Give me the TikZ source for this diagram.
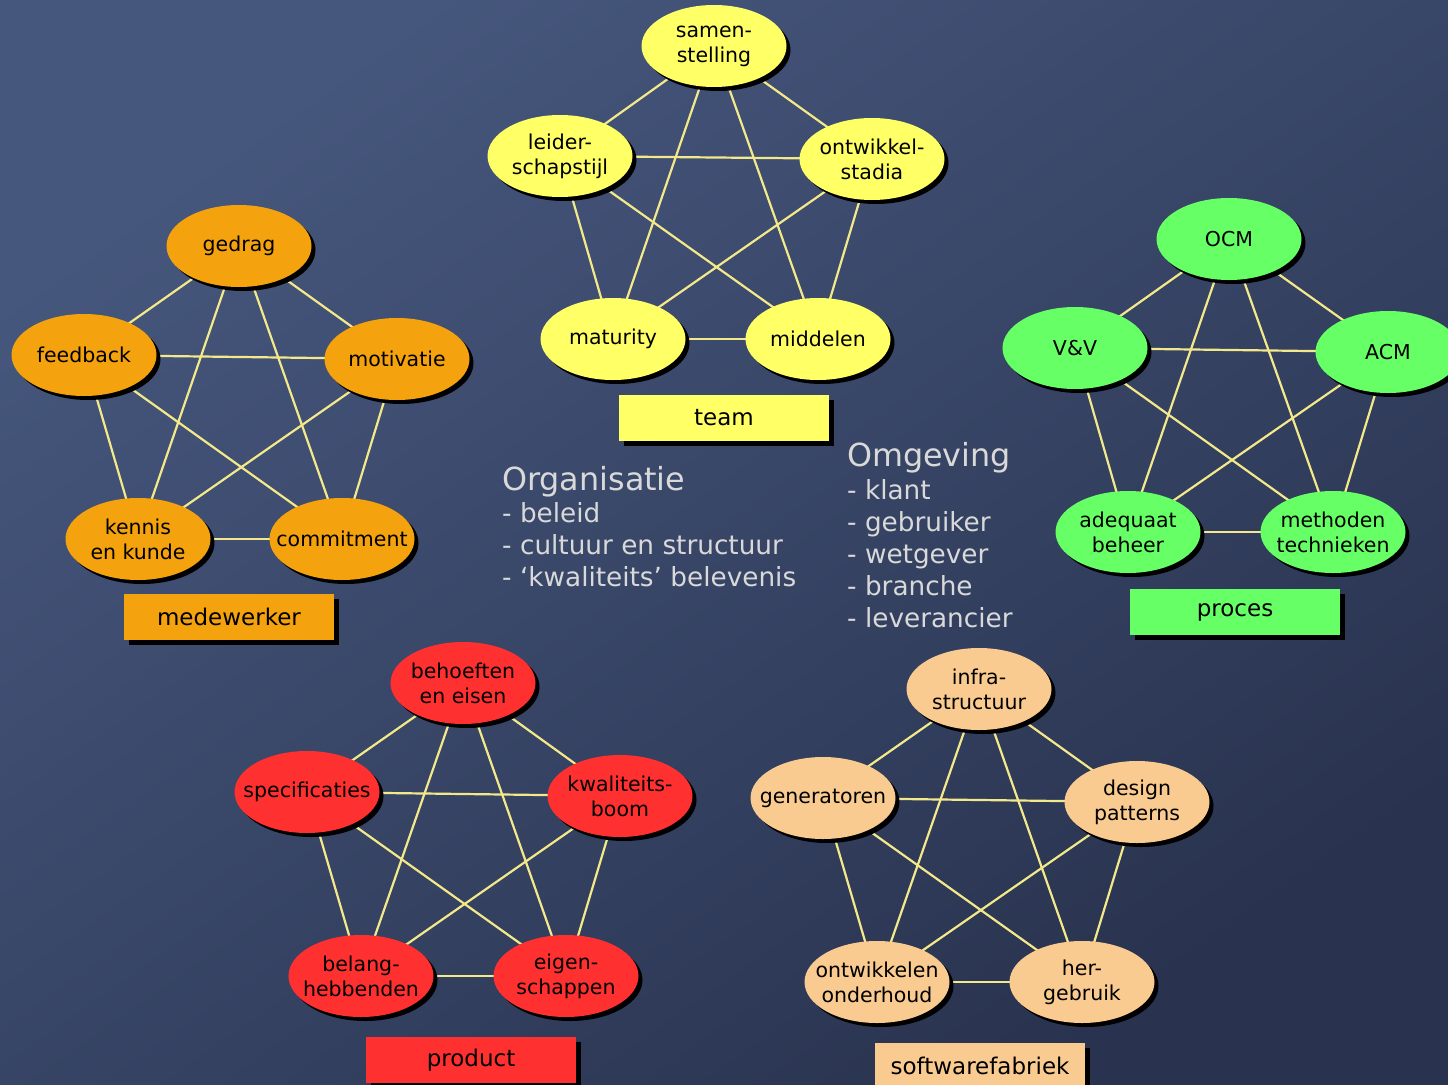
\documentclass[tikz,border=0pt]{standalone}
\usepackage{fontspec}
\setmainfont{DejaVu Sans}
\usetikzlibrary{shapes.geometric, shadows, backgrounds}
\definecolor{bgA}{HTML}{46577D}
\definecolor{bgB}{HTML}{29334F}
\definecolor{lijnkleur}{HTML}{F3E98A}
\definecolor{cmed}{HTML}{F4A30E}
\definecolor{cteam}{HTML}{FFFF66}
\definecolor{cproc}{HTML}{66FF66}
\definecolor{cprod}{HTML}{FF3030}
\definecolor{csw}{HTML}{FACB90}
\definecolor{grijs}{HTML}{D9D9D9}
\tikzset{%
    bol/.style={ellipse, minimum width=145pt, minimum height=82pt, inner xsep=-30pt, inner ysep=0pt, align=center,
        font=\fontsize{20.5}{25}\selectfont,
        drop shadow={fill=black, opacity=1, shadow xshift=4pt, shadow yshift=-4pt}},
    lab/.style={rectangle, minimum width=210pt, minimum height=46pt, inner sep=0pt,
        font=\fontsize{23}{28}\selectfont,
        drop shadow={fill=black, opacity=1, shadow xshift=5pt, shadow yshift=-5pt}},
    lijn/.style={line width=2.2pt, draw=lijnkleur},
    kop/.style={anchor=base west, inner sep=0pt, text=grijs, font=\fontsize{31.8}{36}\selectfont},
    lst/.style={anchor=base west, inner sep=0pt, text=grijs, font=\fontsize{26.3}{32}\selectfont},
}

\begin{document}
\begin{tikzpicture}[x=1pt, y=-1pt]
    \useasboundingbox (0,0) rectangle (1448,1084);
    \clip (0,0) rectangle (1448,1084);
    % medewerker
    \node[bol, fill=cmed] (med1) at (239,246) {gedrag};
    \node[bol, fill=cmed] (med2) at (84,355) {feedback};
    \node[bol, fill=cmed] (med3) at (397,359) {motivatie};
    \node[bol, fill=cmed] (med4) at (138,539) {kennis\\en kunde};
    \node[bol, fill=cmed] (med5) at (342,539) {commitment};
    \node[lab, fill=cmed] (medlab) at (229,617) {medewerker};
    % team
    \node[bol, fill=cteam] (team1) at (714,46) {samen-\\stelling};
    \node[bol, fill=cteam] (team2) at (560,156) {leider-\\schapstijl};
    \node[bol, fill=cteam] (team3) at (872,159) {ontwikkel-\\stadia};
    \node[bol, fill=cteam] (team4) at (613,339) {maturity};
    \node[bol, fill=cteam] (team5) at (818,339) {middelen};
    \node[lab, fill=cteam] (teamlab) at (724,418) {team};
    % proces
    \node[bol, fill=cproc] (proc1) at (1229,239) {OCM};
    \node[bol, fill=cproc] (proc2) at (1075,348) {V\&V};
    \node[bol, fill=cproc] (proc3) at (1388,352) {ACM};
    \node[bol, fill=cproc] (proc4) at (1128,532) {adequaat\\beheer};
    \node[bol, fill=cproc] (proc5) at (1333,532) {methoden\\technieken};
    \node[lab, fill=cproc] (proclab) at (1235,612) {proces};
    % product
    \node[bol, fill=cprod] (prod1) at (463,683) {behoeften\\en eisen};
    \node[bol, fill=cprod] (prod2) at (307,792) {specificaties};
    \node[bol, fill=cprod] (prod3) at (620,796) {kwaliteits-\\boom};
    \node[bol, fill=cprod] (prod4) at (361,976) {belang-\\hebbenden};
    \node[bol, fill=cprod] (prod5) at (566,976) {eigen-\\schappen};
    \node[lab, fill=cprod] (prodlab) at (471,1060) {product};
    % softwarefabriek
    \node[bol, fill=csw] (sw1) at (979,689) {infra-\\structuur};
    \node[bol, fill=csw] (sw2) at (823,798) {generatoren};
    \node[bol, fill=csw] (sw3) at (1137,802) {design\\patterns};
    \node[bol, fill=csw] (sw4) at (877,982) {ontwikkelen\\onderhoud};
    \node[bol, fill=csw] (sw5) at (1082,982) {her-\\gebruik};
    \node[lab, fill=csw] (swlab) at (980,1066) {softwarefabriek};
    % organisatie en omgeving
    \node[kop] (org) at (502,490) {Organisatie};
    \foreach \t [count=\k] in {beleid, cultuur en structuur, {‘kwaliteits’ belevenis}}
        \node[lst] (org\k) at (502,490+32*\k) {- \t};
    \node[kop] (omg) at (847,466) {Omgeving};
    \foreach \t [count=\k] in {klant, gebruiker, wetgever, branche, leverancier}
        \node[lst] (omg\k) at (847,467+32*\k) {- \t};
    \begin{pgfonlayer}{background}
        \shade[top color=bgA, bottom color=bgB, shading angle=35] (0,0) rectangle (1448,1084);
        \foreach \c in {med, team, proc, prod, sw}
            \foreach \i/\j in {1/2,1/3,1/4,1/5,2/3,2/4,2/5,3/4,3/5,4/5}
                \draw[lijn] (\c\i.center) -- (\c\j.center);
    \end{pgfonlayer}
\end{tikzpicture}
\end{document}
